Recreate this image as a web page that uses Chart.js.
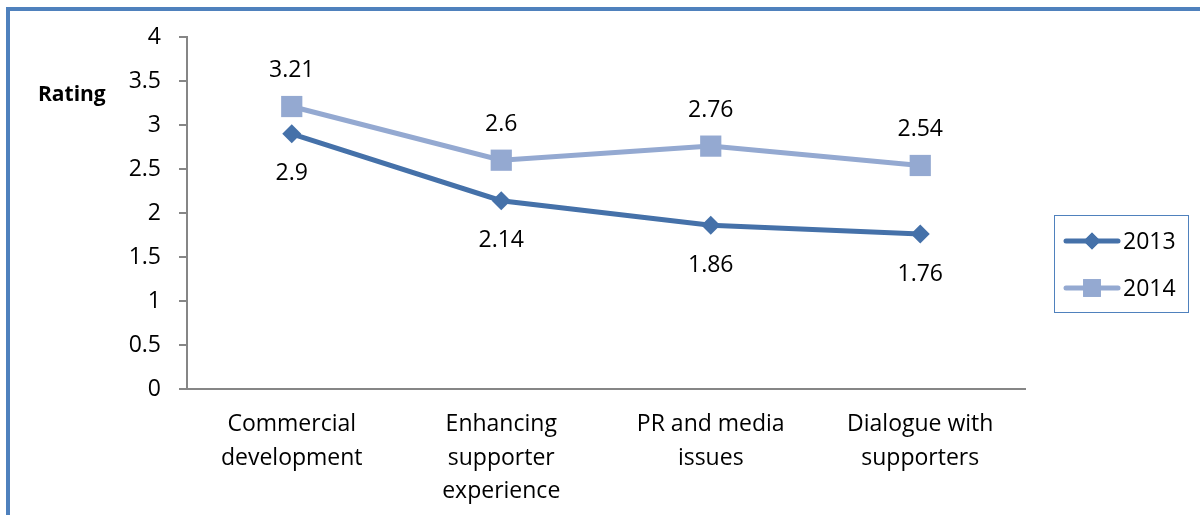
<!DOCTYPE html>
<html>
<head>
<meta charset="utf-8">
<script src="https://cdn.jsdelivr.net/npm/chart.js@4.4.0/dist/chart.umd.min.js"></script>
<style>
  html, body { margin: 0; padding: 0; background: #ffffff; overflow: hidden; }
  #wrap { position: relative; width: 1200px; height: 515px; }
  #frame { position: absolute; left: 6px; top: 7px; width: 1300px; height: 700px;
           border: 4px solid #4F81BD; box-sizing: border-box; pointer-events: none; }
  canvas { position: absolute; left: 0; top: 0; }
</style>
</head>
<body>
<div id="wrap">
  <canvas id="c" width="1200" height="515"></canvas>
  <div id="frame"></div>
</div>
<script>
const categories = [
  ['Commercial', 'development'],
  ['Enhancing', 'supporter', 'experience'],
  ['PR and media', 'issues'],
  ['Dialogue with', 'supporters']
];
const series2013 = [2.9, 2.14, 1.86, 1.76];
const series2014 = [3.21, 2.6, 2.76, 2.54];
const yTicks = [0, 0.5, 1, 1.5, 2, 2.5, 3, 3.5, 4];

const FONT = '"Open Sans", "Noto Sans", sans-serif';
const COLOR_2013 = '#4571A9';
const COLOR_2014 = '#94A9D1';

// value labels above (2014) or below (2013) each point
const valueLabels = {
  id: 'valueLabels',
  afterDatasetsDraw(chart) {
    const ctx = chart.ctx;
    ctx.save();
    ctx.font = '23px ' + FONT;
    ctx.fillStyle = '#000';
    ctx.textAlign = 'center';
    ctx.textBaseline = 'middle';
    chart.data.datasets.forEach((ds, i) => {
      const meta = chart.getDatasetMeta(i);
      meta.data.forEach((pt, j) => {
        ctx.fillText(String(ds.data[j]), pt.x, pt.y + ds.labelOffset);
      });
    });
    ctx.restore();
  }
};

// axis caption and boxed legend with line + marker samples
const extras = {
  id: 'extras',
  afterDraw(chart) {
    const ctx = chart.ctx;
    ctx.save();
    ctx.font = 'bold 21px ' + FONT;
    ctx.fillStyle = '#000';
    ctx.textAlign = 'left';
    ctx.textBaseline = 'middle';
    ctx.fillText('Rating', 38, 95);

    ctx.strokeStyle = '#4F81BD';
    ctx.lineWidth = 1;
    ctx.strokeRect(1054.5, 215.5, 134, 97);
    const rows = [
      { label: '2013', color: COLOR_2013, style: 'rectRot', r: 8.5, y: 241 },
      { label: '2014', color: COLOR_2014, style: 'rect', r: 12.5, y: 288 }
    ];
    rows.forEach(row => {
      ctx.strokeStyle = row.color;
      ctx.lineWidth = 5;
      ctx.lineCap = 'round';
      ctx.beginPath();
      ctx.moveTo(1066, row.y);
      ctx.lineTo(1118, row.y);
      ctx.stroke();
      ctx.fillStyle = row.color;
      Chart.helpers.drawPoint(ctx, { pointStyle: row.style, radius: row.r, borderWidth: 0 }, 1092, row.y);
      ctx.fill();
      ctx.fillStyle = '#000';
      ctx.font = '23px ' + FONT;
      ctx.fillText(row.label, 1123, row.y + 1);
    });
    ctx.restore();
  }
};

new Chart(document.getElementById('c'), {
  type: 'line',
  data: {
    labels: categories,
    datasets: [
      {
        label: '2013',
        data: series2013,
        borderColor: COLOR_2013,
        backgroundColor: COLOR_2013,
        borderWidth: 5,
        pointStyle: 'rectRot',
        pointRadius: 9.5,
        pointBorderWidth: 0,
        tension: 0,
        labelOffset: 40
      },
      {
        label: '2014',
        data: series2014,
        borderColor: COLOR_2014,
        backgroundColor: COLOR_2014,
        borderWidth: 5,
        pointStyle: 'rect',
        pointRadius: 15,
        pointBorderWidth: 0,
        tension: 0,
        labelOffset: -36
      }
    ]
  },
  options: {
    responsive: false,
    animation: false,
    events: [],
    layout: { padding: { left: 0, right: 175, top: 37, bottom: 0 } },
    plugins: { legend: { display: false }, tooltip: { enabled: false } },
    scales: {
      x: {
        offset: true,
        grid: { display: false, drawTicks: false },
        border: { display: true, color: '#868686', width: 2 },
        ticks: {
          color: '#000',
          font: { family: FONT, size: 23, lineHeight: 1.45 },
          padding: 19,
          maxRotation: 0,
          autoSkip: false
        },
        afterFit(scale) { scale.height = 126; }
      },
      y: {
        min: 0,
        max: 4,
        afterBuildTicks(scale) { scale.ticks = yTicks.map(v => ({ value: v })); },
        grid: { drawOnChartArea: false, drawTicks: true, tickLength: 8, color: '#868686', lineWidth: 2 },
        border: { display: true, color: '#868686', width: 2 },
        ticks: {
          color: '#000',
          font: { family: FONT, size: 23 },
          padding: 18,
          callback: v => String(v)
        },
        afterFit(scale) { scale.width = 187; }
      }
    }
  },
  plugins: [valueLabels, extras]
});
</script>
</body>
</html>
